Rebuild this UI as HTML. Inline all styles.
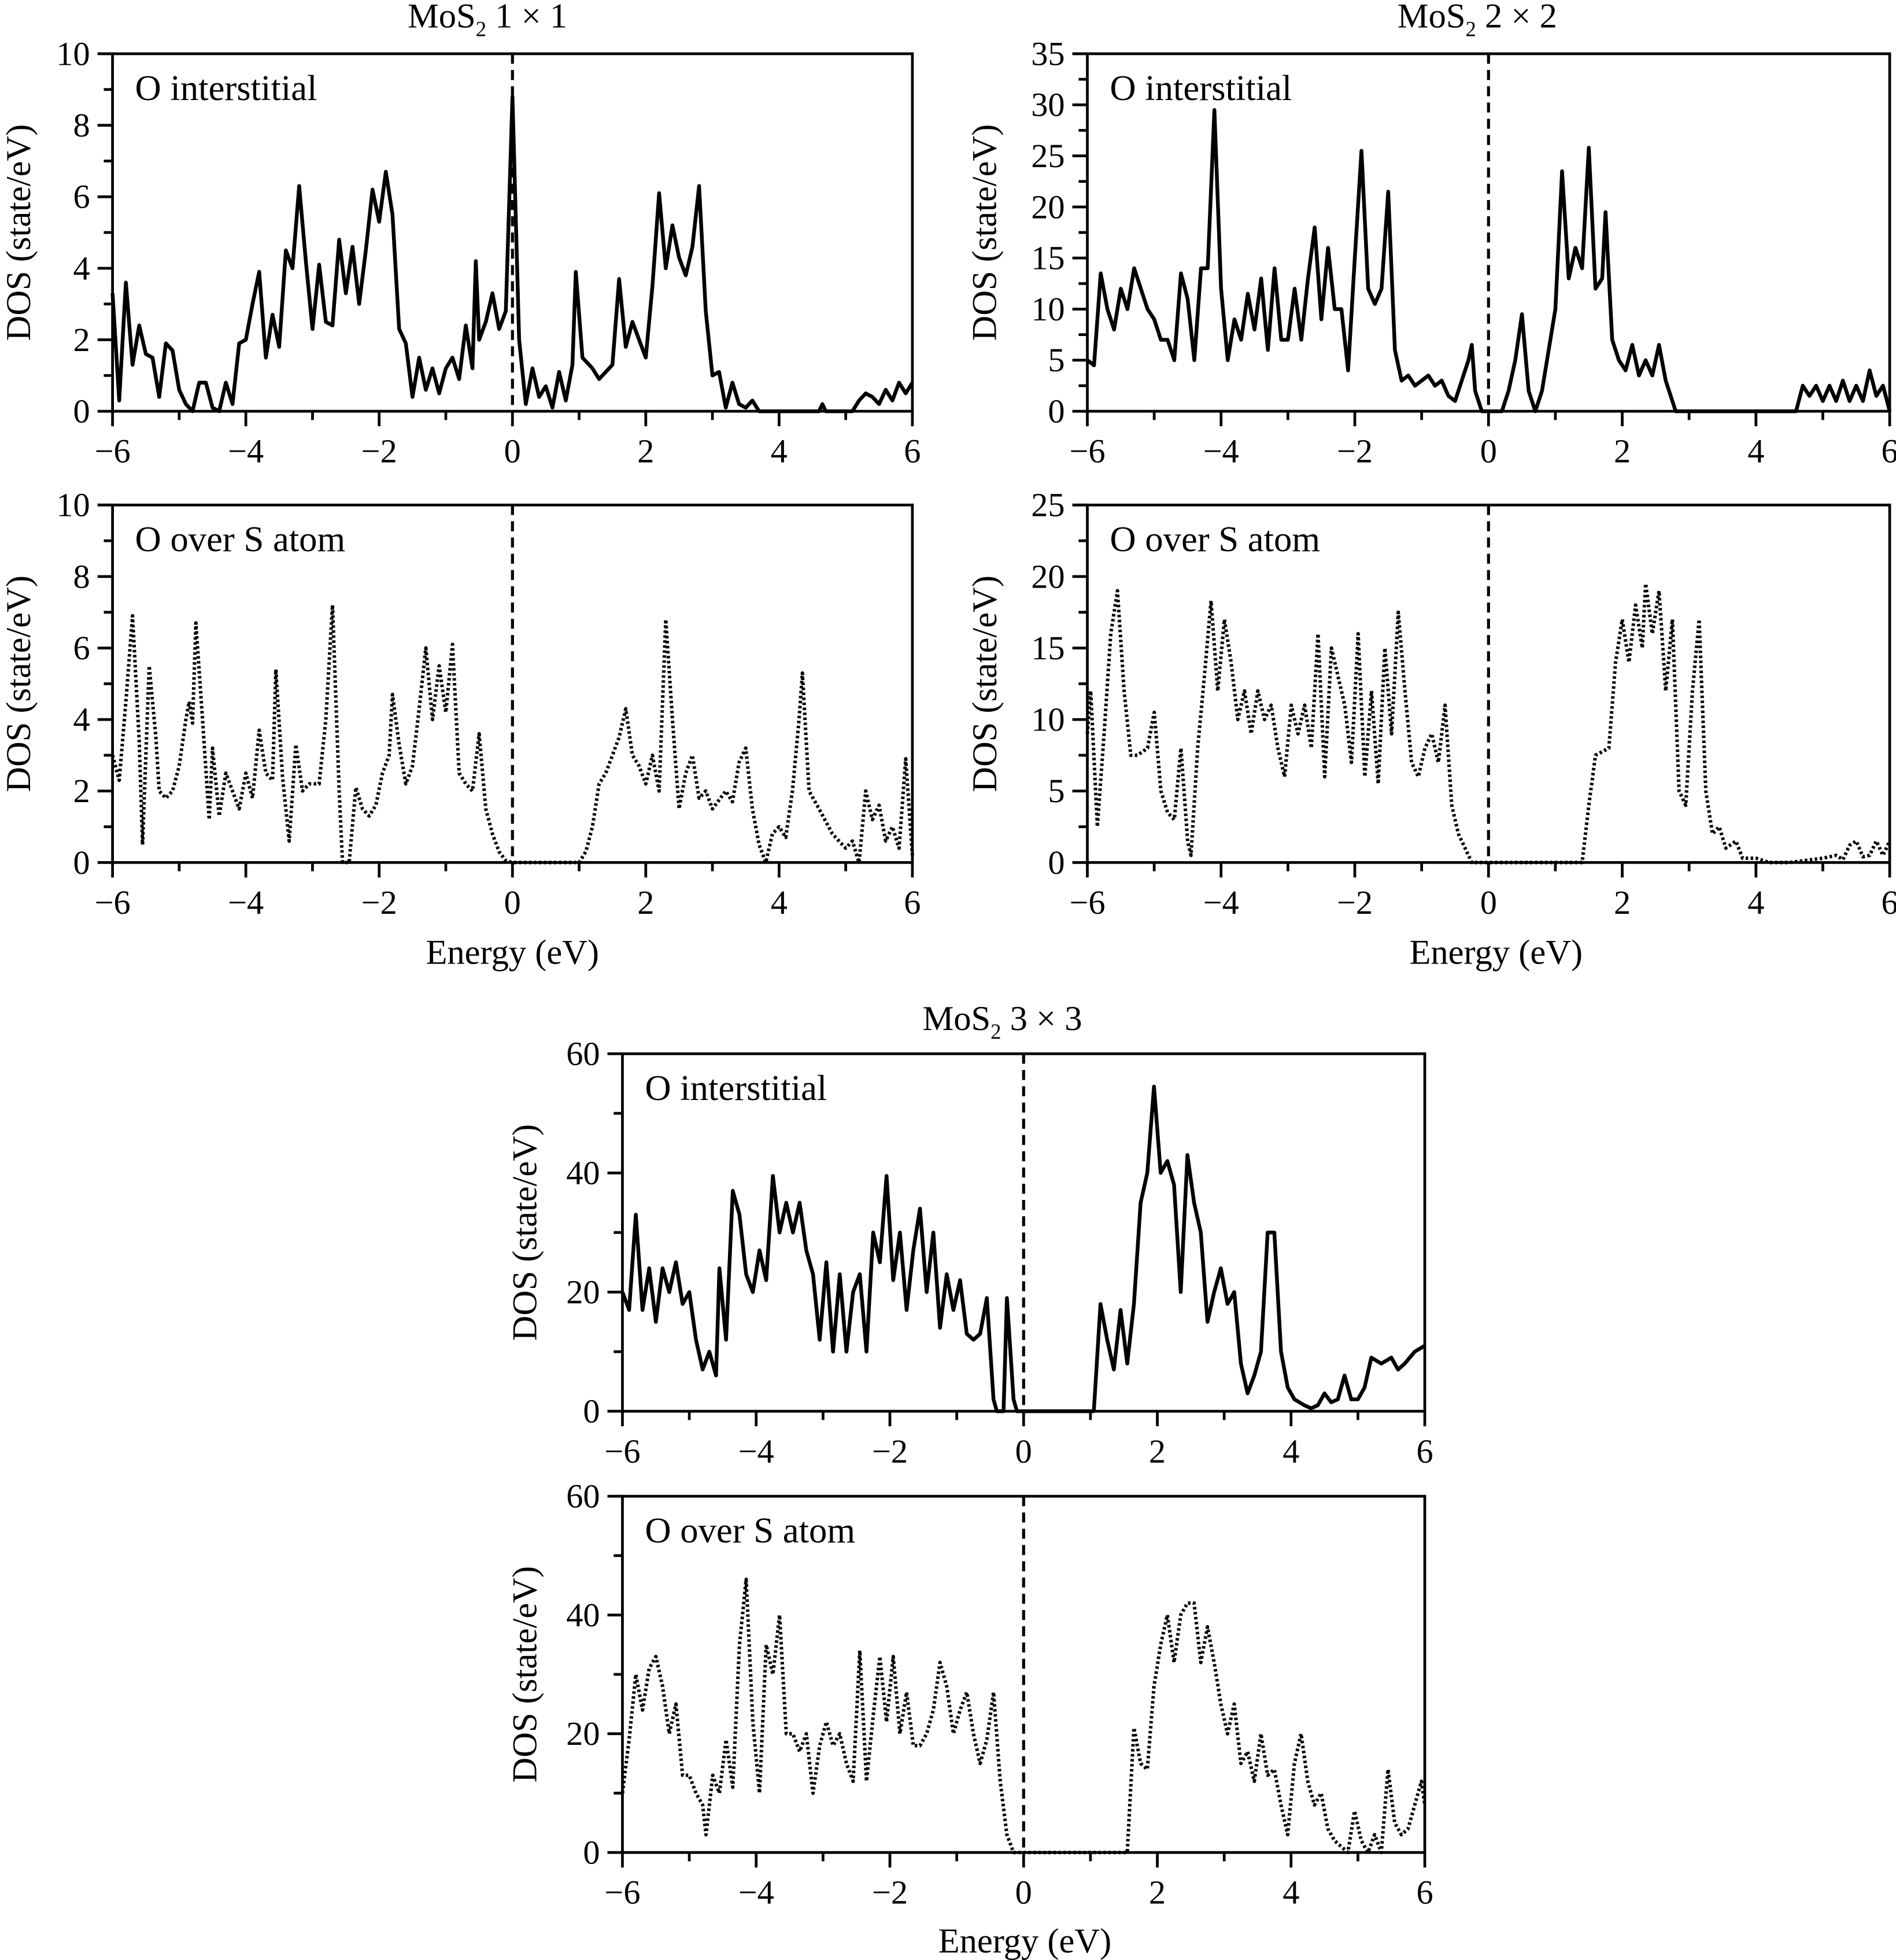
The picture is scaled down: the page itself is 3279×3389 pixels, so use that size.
<!DOCTYPE html>
<html><head><meta charset="utf-8"><style>
html,body{margin:0;padding:0;background:#fff}
svg{display:block}
text{font-family:"Liberation Serif",serif;fill:#000}
</style></head><body>
<svg id="fig" width="3279" height="3389" viewBox="0 0 1517 1568" xmlns="http://www.w3.org/2000/svg"></svg>
<script>
const xTicks=[-6,-4,-2,0,2,4,6];
const a_x=[-6,-5.9,-5.8,-5.7,-5.6,-5.5,-5.4,-5.3,-5.2,-5.1,-5.0,-4.9,-4.8,-4.7,-4.6,-4.5,-4.4,-4.3,-4.2,-4.1,-4.0,-3.9,-3.8,-3.7,-3.6,-3.5,-3.4,-3.3,-3.2,-3.1,-3.0,-2.9,-2.8,-2.7,-2.6,-2.5,-2.4,-2.3,-2.2,-2.1,-2.0,-1.9,-1.8,-1.7,-1.6,-1.5,-1.4,-1.3,-1.2,-1.1,-1.0,-0.9,-0.8,-0.7,-0.6,-0.55,-0.5,-0.4,-0.3,-0.2,-0.1,0,0.1,0.2,0.3,0.4,0.5,0.6,0.7,0.8,0.9,0.95,1.05,1.2,1.3,1.4,1.5,1.6,1.7,1.8,1.9,2.0,2.1,2.2,2.3,2.4,2.5,2.6,2.7,2.8,2.9,3.0,3.1,3.2,3.3,3.4,3.5,3.6,3.7,4.6,4.65,4.7,5.1,5.2,5.3,5.4,5.5,5.6,5.7,5.8,5.9,6];
const a_y=[3.3,0.3,3.6,1.3,2.4,1.6,1.5,0.4,1.9,1.7,0.6,0.2,0,0.8,0.8,0.1,0,0.8,0.2,1.9,2.0,3.0,3.9,1.5,2.7,1.8,4.5,4.0,6.3,4.2,2.3,4.1,2.5,2.4,4.8,3.3,4.6,3.0,4.5,6.2,5.3,6.7,5.5,2.3,1.9,0.4,1.5,0.6,1.2,0.5,1.2,1.5,0.9,2.4,1.2,4.2,2.0,2.5,3.3,2.3,2.8,8.8,2.0,0.2,1.2,0.4,0.7,0.1,1.1,0.3,1.3,3.9,1.5,1.2,0.9,1.1,1.3,3.7,1.8,2.5,2.0,1.5,3.5,6.1,4.0,5.2,4.3,3.8,4.6,6.3,2.8,1.0,1.1,0.1,0.8,0.2,0.1,0.3,0,0,0.2,0,0,0.3,0.5,0.4,0.2,0.6,0.3,0.8,0.5,0.8];
const b_x=[-6,-5.9,-5.8,-5.7,-5.6,-5.55,-5.45,-5.35,-5.3,-5.2,-5.1,-5.0,-4.9,-4.85,-4.8,-4.75,-4.65,-4.55,-4.5,-4.4,-4.3,-4.2,-4.1,-4.0,-3.9,-3.8,-3.7,-3.6,-3.55,-3.45,-3.35,-3.25,-3.15,-3.05,-2.9,-2.8,-2.7,-2.6,-2.55,-2.45,-2.35,-2.25,-2.15,-2.05,-1.95,-1.85,-1.8,-1.7,-1.6,-1.5,-1.4,-1.3,-1.2,-1.1,-1.0,-0.9,-0.8,-0.7,-0.6,-0.5,-0.4,-0.3,-0.2,-0.1,0,1.0,1.1,1.2,1.3,1.4,1.5,1.6,1.7,1.8,1.9,2.0,2.1,2.2,2.3,2.4,2.5,2.6,2.7,2.8,2.9,3.0,3.2,3.3,3.4,3.5,3.6,3.7,3.8,3.9,4.0,4.1,4.2,4.3,4.35,4.45,4.6,4.8,5.0,5.1,5.2,5.3,5.4,5.5,5.6,5.7,5.8,5.9,6.0];
const b_y=[3,2.3,4.5,6.9,3.4,0.5,5.5,3.5,2.0,1.8,2.0,2.7,4.0,4.5,3.9,6.7,4.0,1.2,3.2,1.3,2.5,2.0,1.5,2.5,1.8,3.7,2.5,2.3,5.4,2.4,0.6,3.3,2.0,2.2,2.2,4.0,7.2,2.0,0,0,2.1,1.5,1.3,1.6,2.5,3.0,4.7,3.3,2.2,2.7,4.3,6.0,4.0,5.5,4.2,6.1,2.5,2.2,2.0,3.6,1.5,0.8,0.3,0.05,0,0,0.3,1.0,2.2,2.5,3.0,3.5,4.3,3.0,2.7,2.2,3.0,2.0,6.8,4.0,1.5,2.5,3.0,1.8,2.0,1.5,2.0,1.7,2.8,3.2,1.5,0.5,0,0.8,1.0,0.7,2.0,4.0,5.3,2.0,1.5,0.8,0.4,0.6,0,2.0,1.2,1.6,0.6,1.0,0.4,2.9,0.2];
const c_x=[-6,-5.9,-5.8,-5.7,-5.6,-5.5,-5.4,-5.3,-5.2,-5.1,-5.0,-4.9,-4.8,-4.7,-4.6,-4.5,-4.4,-4.3,-4.2,-4.1,-4.0,-3.9,-3.8,-3.7,-3.6,-3.5,-3.4,-3.3,-3.2,-3.1,-3.0,-2.9,-2.8,-2.7,-2.6,-2.5,-2.4,-2.3,-2.2,-2.1,-2.0,-1.9,-1.8,-1.7,-1.6,-1.5,-1.4,-1.3,-1.2,-1.1,-1.0,-0.9,-0.8,-0.7,-0.6,-0.5,-0.3,-0.25,-0.2,-0.1,0.2,0.3,0.4,0.5,0.6,0.7,0.8,0.9,1.0,1.1,1.2,1.3,1.4,1.5,1.6,1.7,1.75,1.85,1.95,2.05,2.15,2.25,2.35,2.45,2.55,2.65,2.8,4.6,4.7,4.8,4.9,5.0,5.1,5.2,5.3,5.4,5.5,5.6,5.7,5.8,5.9,6];
const c_y=[5,4.5,13.5,10,8,12,10,14,12,10,9,7,7,5,13.5,11,5,14,14,29.5,12,5,9,7,11.5,8,13,6,14,7,7,12,7,13,18,9,16,10,10,4,15,25.5,12,10.5,12,21.5,6,3,3.5,2.5,3,3.5,2.5,3,1.5,1,5,6.5,2,0,0,2,5,9.5,2,0,2,6,10,23.5,13,16,14,25.8,12,13,19.5,7,5,4,6.5,3.5,5,3.5,6.5,3,0,0,2.5,1.5,2.5,1,2.5,1,3,1,2.5,1,4,1.5,2.5,0];
const d_x=[-6,-5.95,-5.85,-5.75,-5.65,-5.55,-5.45,-5.35,-5.25,-5.1,-5.0,-4.9,-4.8,-4.7,-4.6,-4.5,-4.45,-4.35,-4.25,-4.15,-4.05,-3.95,-3.85,-3.75,-3.65,-3.55,-3.45,-3.35,-3.25,-3.15,-3.05,-2.95,-2.85,-2.75,-2.65,-2.55,-2.45,-2.35,-2.25,-2.15,-2.05,-1.95,-1.85,-1.75,-1.65,-1.55,-1.45,-1.35,-1.25,-1.15,-1.05,-0.95,-0.85,-0.75,-0.65,-0.55,-0.45,-0.35,-0.25,1.4,1.5,1.6,1.8,1.9,2.0,2.1,2.2,2.3,2.35,2.45,2.55,2.65,2.75,2.85,2.95,3.05,3.15,3.25,3.35,3.45,3.55,3.7,3.8,4.0,4.2,4.5,5.0,5.2,5.3,5.4,5.5,5.6,5.7,5.8,5.9,6];
const d_y=[9,12,2.5,9,16,19,12,7.5,7.5,8,10.5,5,3.5,3,8,1.5,0.5,8,13,18.3,12,17,14,10,12,9,12,10,11,8,6,11,9,11,8,16,6,15,13,11,7,16,6,12,5.5,15,9,17.5,12,7,6,8,9,7,11,4,2,1,0,0,4,7.5,8,14,17,14,18,15,19.5,16,19,12,17,5,4,12,17,5,2,2.5,1,1.5,0.3,0.3,0,0,0.3,0.5,0.2,1.2,1.5,0.4,0.5,1.5,0.5,1.5];
const e_x=[-6,-5.9,-5.8,-5.7,-5.6,-5.5,-5.4,-5.3,-5.2,-5.1,-5.0,-4.9,-4.8,-4.7,-4.6,-4.55,-4.45,-4.35,-4.25,-4.15,-4.05,-3.95,-3.85,-3.75,-3.65,-3.55,-3.45,-3.35,-3.25,-3.15,-3.05,-2.95,-2.85,-2.75,-2.65,-2.55,-2.45,-2.35,-2.25,-2.15,-2.05,-1.95,-1.85,-1.75,-1.65,-1.55,-1.45,-1.35,-1.25,-1.15,-1.05,-0.95,-0.85,-0.75,-0.65,-0.55,-0.45,-0.4,-0.3,-0.25,-0.15,-0.1,1.05,1.15,1.25,1.35,1.45,1.55,1.65,1.75,1.85,1.95,2.05,2.15,2.25,2.35,2.45,2.55,2.65,2.75,2.85,2.95,3.05,3.15,3.25,3.35,3.45,3.55,3.65,3.75,3.85,3.95,4.05,4.2,4.3,4.4,4.5,4.6,4.7,4.8,4.9,5.0,5.1,5.2,5.35,5.5,5.6,5.7,5.85,6];
const e_y=[20,17,33,17,24,15,24,20,25,18,20,12,7,10,6,24,12,37,33,23,20,27,22,39.5,30,35,30,35,27,23,12,25,10,23,10,20,23,10,30,25,39.5,22,30,17,27,34,20,30,14,23,17,22,13,12,13,19,2,0,0,19,2,0,0,18,12,7,17,8,18,35,40,54.5,40,42,38,20,43,35,30,15,20,24,18,20,8,3,6,10,30,30,10,4,2,1,0.5,1,3,1.5,2,6,2,2,4,9,8,9,7,8,10,11];
const f_x=[-6,-5.9,-5.8,-5.7,-5.6,-5.5,-5.4,-5.3,-5.2,-5.1,-5.0,-4.9,-4.8,-4.75,-4.65,-4.55,-4.45,-4.35,-4.25,-4.15,-4.05,-3.95,-3.85,-3.75,-3.65,-3.55,-3.45,-3.35,-3.25,-3.15,-3.05,-2.95,-2.85,-2.75,-2.65,-2.55,-2.45,-2.35,-2.25,-2.15,-2.05,-1.95,-1.85,-1.75,-1.65,-1.55,-1.45,-1.35,-1.25,-1.15,-1.05,-0.95,-0.85,-0.75,-0.65,-0.55,-0.45,-0.35,-0.25,-0.15,1.55,1.65,1.75,1.85,1.95,2.05,2.15,2.25,2.35,2.45,2.55,2.65,2.75,2.85,2.95,3.05,3.15,3.25,3.35,3.45,3.55,3.65,3.75,3.85,3.95,4.05,4.15,4.25,4.35,4.45,4.55,4.65,4.75,4.85,4.95,5.05,5.15,5.25,5.35,5.45,5.55,5.65,5.75,5.85,5.95,6];
const f_y=[10,19,30,24,31,33,28,20,25,13,13,10,8,3,13,10,19,11,35,46,22,10,35,30,40,20,20,17,20,10,18,22,18,20,15,12,34,12,23,33,22,33,20,27,18,18,20,24,32,28,20,24,27,20,15,19,27,12,3,0,0,21,15,14,28,35,40,32,40,42,42,32,38,32,25,20,25,15,17,12,20,13,14,8,3,15,20,12,8,10,4,2,1,0,7,2,0,3,0,14,5,3,4,8,12,8];

const panels=[
 {id:'1x1-interstitial',x0:90,x1:730,y0:43,y1:329,ymax:10,yt:[0,2,4,6,8,10],minor:1,xs:a_x,ys:a_y,dot:false,label:'O interstitial',ylx:15},
 {id:'1x1-over-s',x0:90,x1:730,y0:404,y1:690,ymax:10,yt:[0,2,4,6,8,10],minor:1,xs:b_x,ys:b_y,dot:true,label:'O over S atom',ylx:15},
 {id:'2x2-interstitial',x0:870,x1:1512,y0:43,y1:329,ymax:35,yt:[0,5,10,15,20,25,30,35],minor:2.5,xs:c_x,ys:c_y,dot:false,label:'O interstitial',ylx:788},
 {id:'2x2-over-s',x0:870,x1:1512,y0:404,y1:690,ymax:25,yt:[0,5,10,15,20,25],minor:2.5,xs:d_x,ys:d_y,dot:true,label:'O over S atom',ylx:788},
 {id:'3x3-interstitial',x0:498,x1:1140,y0:843,y1:1129,ymax:60,yt:[0,20,40,60],minor:10,xs:e_x,ys:e_y,dot:false,label:'O interstitial',ylx:420},
 {id:'3x3-over-s',x0:498,x1:1140,y0:1197,y1:1482,ymax:60,yt:[0,20,40,60],minor:10,xs:f_x,ys:f_y,dot:true,label:'O over S atom',ylx:420}
];
const svg=document.getElementById('fig');
const NS='http://www.w3.org/2000/svg';
function mk(tag,attrs,parent){const e=document.createElementNS(NS,tag);for(const k in attrs)e.setAttribute(k,attrs[k]);(parent||svg).appendChild(e);return e;}
function fmt(v){return v<0?'\u2212'+(-v):''+v;}
panels.forEach(p=>{
 const g=mk('g',{});
 
 
 const sx=v=>p.x0+(v+6)/12*(p.x1-p.x0);
 const sy=v=>p.y1-v/p.ymax*(p.y1-p.y0);
 const pts=p.xs.map((x,i)=>sx(x).toFixed(2)+','+sy(p.ys[i]).toFixed(2)).join(' ');
 const line=mk('polyline',{points:pts,fill:'none',stroke:'#000','stroke-width':p.dot?2.8:3,'stroke-linejoin':'round','stroke-dasharray':p.dot?'2,2':'none'},g);
 
 
 const fl=mk('line',{x1:sx(0),x2:sx(0),y1:p.y0,y2:p.y1,stroke:'#000','stroke-width':2.4,'stroke-dasharray':'8,5'},g);
 
 
 const fr=mk('rect',{x:p.x0,y:p.y0,width:p.x1-p.x0,height:p.y1-p.y0,fill:'none',stroke:'#000','stroke-width':2.2},g);
 
 
 xTicks.forEach(t=>{
  mk('line',{x1:sx(t),x2:sx(t),y1:p.y1,y2:p.y1+12,stroke:'#000','stroke-width':2.2},g);
  const tx=mk('text',{x:sx(t),y:p.y1+41,'font-size':27,'text-anchor':'middle'},g);
  tx.textContent=fmt(t);
  
  
 });
 for(let t=-5;t<6;t+=2) mk('line',{x1:sx(t),x2:sx(t),y1:p.y1,y2:p.y1+7,stroke:'#000','stroke-width':2.2},g);
 p.yt.forEach(t=>{
  mk('line',{x1:p.x0-12,x2:p.x0,y1:sy(t),y2:sy(t),stroke:'#000','stroke-width':2.2},g);
  const ty=mk('text',{x:p.x0-18,y:sy(t)+9,'font-size':27,'text-anchor':'end'},g);
  ty.textContent=t;
  
  
 });
 for(let t=p.minor;t<p.ymax;t+=p.minor*2) mk('line',{x1:p.x0-7,x2:p.x0,y1:sy(t),y2:sy(t),stroke:'#000','stroke-width':2.2},g);
 const lb=mk('text',{x:p.x0+18,y:p.y0+37,'font-size':29},g);
 lb.textContent=p.label;
 
 
 const cy=(p.y0+p.y1)/2;
 const yl=mk('text',{x:p.ylx,y:cy,'font-size':28,'text-anchor':'middle',transform:'rotate(-90 '+p.ylx+' '+cy+')','dominant-baseline':'central'},g);
 yl.textContent='DOS (state/eV)';
 
 
});
function title(x,y,n){
 const t=mk('text',{x:x,y:y,'font-size':28,'text-anchor':'middle'});
 
 
 t.innerHTML='MoS<tspan font-size="17" dy="7">2</tspan><tspan dy="-7"> '+n+' \u00d7 '+n+'</tspan>';
}
title(390,22,1);title(1182,22,2);title(802,824,3);
[[410,771],[1197,771],[820,1562]].forEach(c=>{
 const t=mk('text',{x:c[0],y:c[1],'font-size':28,'text-anchor':'middle'});
 t.textContent='Energy (eV)';
 
 
});
</script>
</body></html>
